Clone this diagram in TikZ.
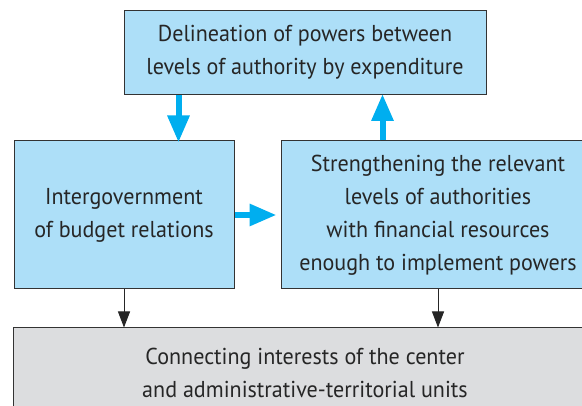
\documentclass[tikz,border=0pt]{standalone}
\usepackage{fontspec}
\setmainfont{PT Sans}[FakeStretch=0.96]
\usepackage{tikz}
\usetikzlibrary{positioning,arrows.meta}
\definecolor{boxBlue}{RGB}{173,223,248}
\definecolor{boxGray}{RGB}{220,221,223}
\definecolor{arrowBlue}{RGB}{0,174,239}
\definecolor{borderColor}{RGB}{51,51,51}
\tikzstyle{diagram} = [x = 1pt, y = -1pt]
\tikzstyle{boxStyle} = [draw=borderColor, line width=1pt, fill=boxBlue, align=center, inner sep=0pt, font=\fontsize{23}{33}\selectfont, text=black!85]
\tikzstyle{grayBoxStyle} = [boxStyle, fill=boxGray]
\tikzstyle{blueArrow} = [draw=arrowBlue, line width=6pt, -{Triangle[length=27pt, width=21pt]}]
\tikzstyle{blackArrow} = [draw=black!85, line width=1pt, -{Triangle[length=16pt, width=12pt]}]

\begin{document}
\begin{tikzpicture}[diagram]
        \useasboundingbox (0,0) rectangle (582,406);
        \clip (0,0) rectangle (582,406);

        \node [boxStyle, minimum width=362pt, minimum height=84pt] (delineation) at (305,52.5)
          {Delineation of powers between\\levels of authority by expenditure};
        \node [boxStyle, minimum width=220pt, minimum height=148pt] (intergov) at (124,215)
          {Intergovernment\\of budget relations};
        \node [boxStyle, minimum width=314pt, minimum height=148pt] (strengthening) at (438,215)
          {Strengthening the relevant\\levels of authorities\\with financial resources\\enough to implement powers};
        \node [grayBoxStyle, minimum width=584pt, minimum height=90pt] (connecting) at (305,373)
          {Connecting interests of the center\\and administrative-territorial units};

        \draw [blueArrow] ([xshift=55pt]delineation.south west) -- ([xshift=55pt, yshift=-2pt]delineation.south west |- intergov.north);
        \draw [blueArrow] ([xshift=102pt]strengthening.north west) -- ([xshift=102pt, yshift=1pt]strengthening.north west |- delineation.south);
        \draw [blueArrow] (intergov.east) -- ([xshift=-4pt]strengthening.west);
        \draw [blackArrow] (intergov.south) -- (intergov.south |- connecting.north);
        \draw [blackArrow] (strengthening.south) -- (strengthening.south |- connecting.north);
      \end{tikzpicture}
\end{document}
